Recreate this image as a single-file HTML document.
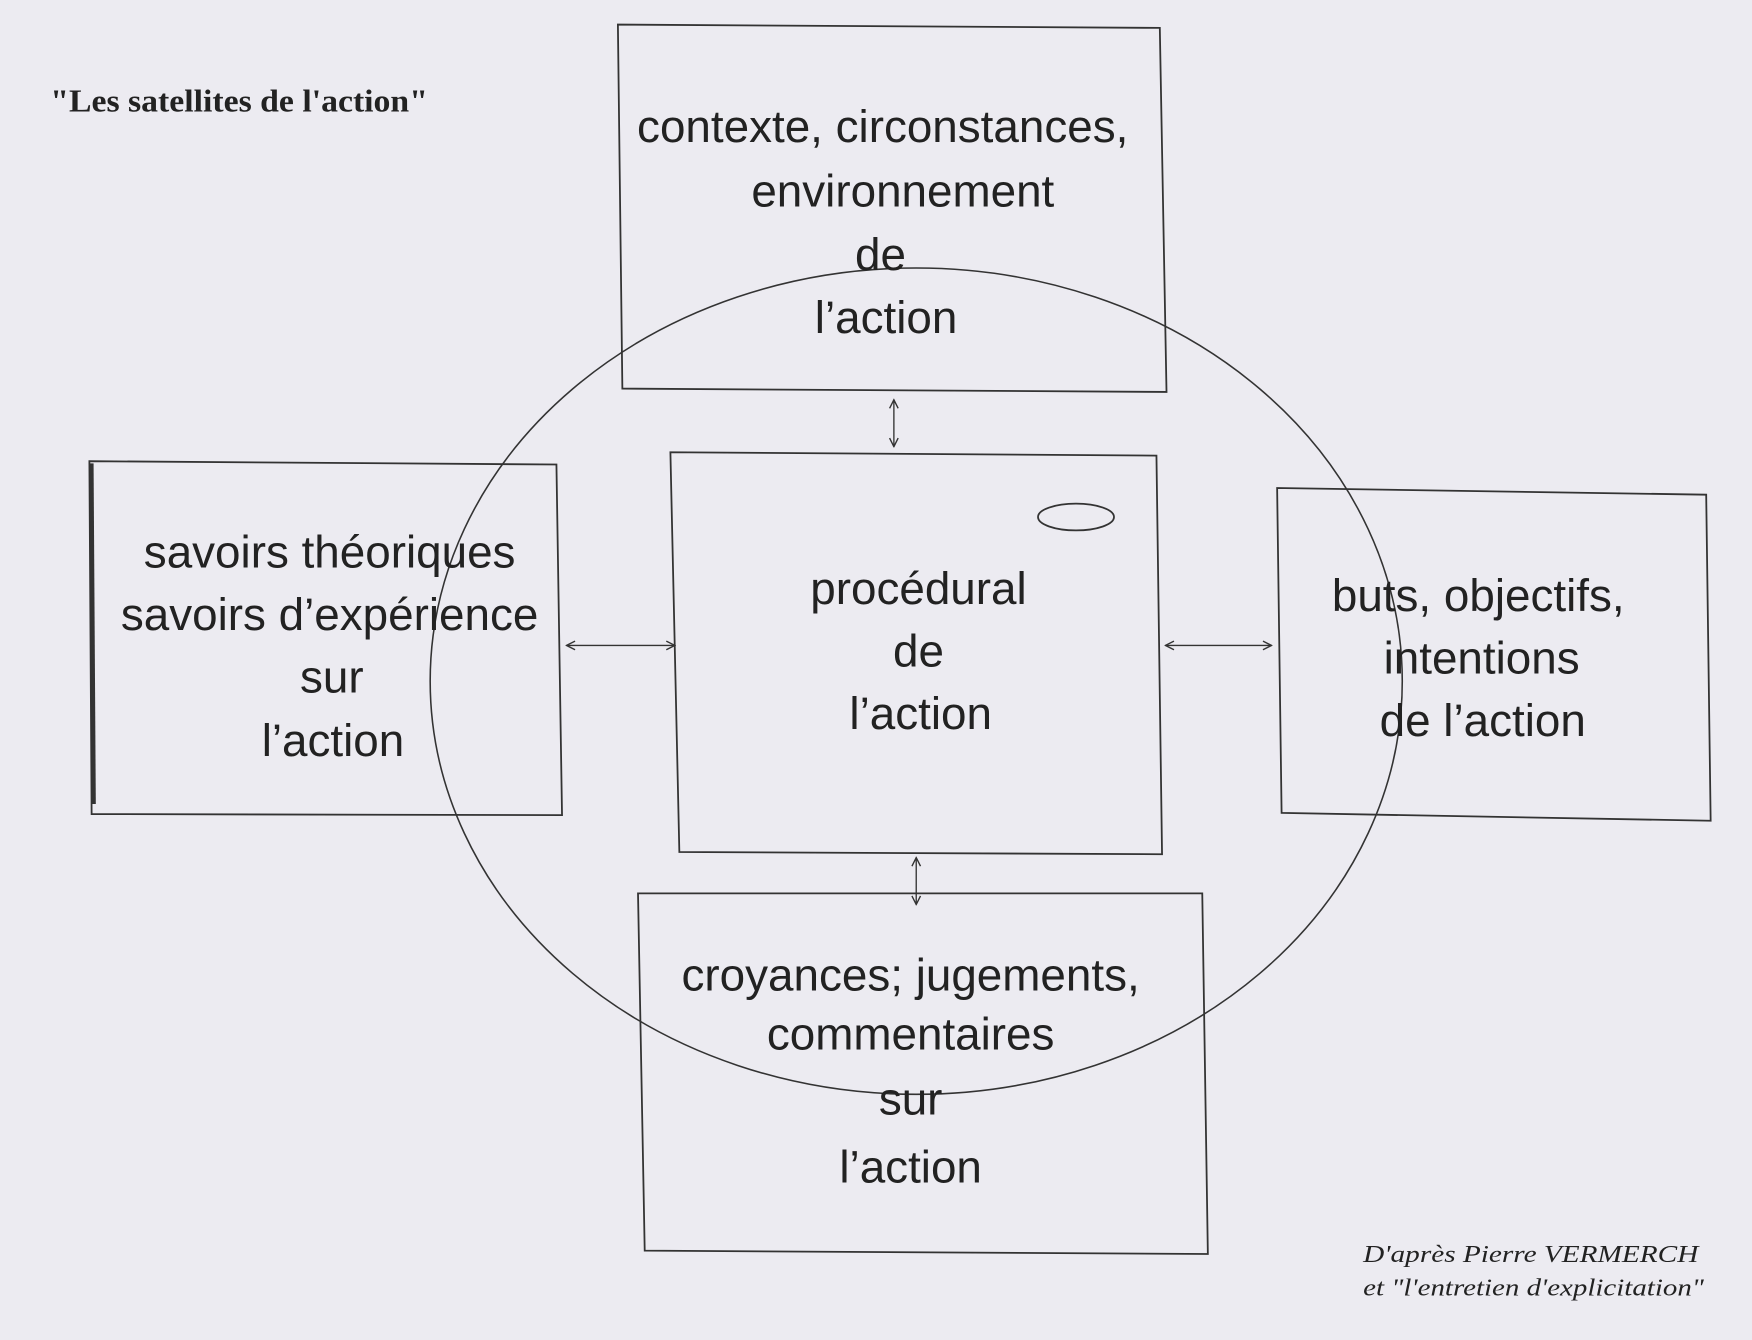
<!DOCTYPE html>
<html><head><meta charset="utf-8"><style>
html,body{margin:0;padding:0;background:#ecebf1;}
svg{display:block;}
.s{font-family:"Liberation Sans",sans-serif;font-size:41px;fill:#222;text-anchor:middle;}
</style></head><body>
<svg width="1752" height="1340" viewBox="0 0 1568 1200" preserveAspectRatio="none" xmlns="http://www.w3.org/2000/svg">
<defs><marker id="a" viewBox="0 0 10 10" refX="9" refY="5" markerWidth="8" markerHeight="8" orient="auto-start-reverse"><path d="M1,1 L9,5 L1,9" fill="none" stroke="#333" stroke-width="1.3"/></marker></defs>
<rect width="1568" height="1200" fill="#ecebf1"/>
<text x="45" y="100" font-family="Liberation Serif,serif" font-weight="bold" font-size="28" fill="#222" textLength="338" lengthAdjust="spacingAndGlyphs">"Les satellites de l'action"</text>
<g fill="none" stroke="#333" stroke-width="1.6">
<polygon points="553,22 1038,25 1044,351 557,348"/>
<polygon points="80,413 498,416 503,730 82,729"/>
<line x1="82" y1="415" x2="84" y2="720" stroke-width="3.5"/>
<polygon points="600,405 1035,408 1040,765 608,763"/>
<polygon points="1143,437 1527,443 1531,735 1147,728"/>
<polygon points="571,800 1076,800 1081,1123 577,1120"/>
<ellipse cx="820" cy="610" rx="435" ry="370" stroke-width="1.4"/>
<ellipse cx="963" cy="463" rx="34" ry="12"/>
<line x1="800" y1="358" x2="800" y2="400" marker-start="url(#a)" marker-end="url(#a)" stroke-width="1.2"/>
<line x1="820" y1="768" x2="820" y2="810" marker-start="url(#a)" marker-end="url(#a)" stroke-width="1.2"/>
<line x1="507" y1="578" x2="604" y2="578" marker-start="url(#a)" marker-end="url(#a)" stroke-width="1.2"/>
<line x1="1043" y1="578" x2="1138" y2="578" marker-start="url(#a)" marker-end="url(#a)" stroke-width="1.2"/>
</g>
<text class="s" x="790" y="127">contexte, circonstances,</text>
<text class="s" x="808" y="185">environnement</text>
<text class="s" x="788" y="242">de</text>
<text class="s" x="793" y="298">l’action</text>
<text class="s" x="295" y="508">savoirs théoriques</text>
<text class="s" x="295" y="564">savoirs d’expérience</text>
<text class="s" x="297" y="620">sur</text>
<text class="s" x="298" y="677">l’action</text>
<text class="s" x="822" y="541">procédural</text>
<text class="s" x="822" y="597">de</text>
<text class="s" x="824" y="653">l’action</text>
<text class="s" x="1323" y="547">buts, objectifs,</text>
<text class="s" x="1326" y="603">intentions</text>
<text class="s" x="1327" y="659">de l’action</text>
<text class="s" x="815" y="887">croyances; jugements,</text>
<text class="s" x="815" y="940">commentaires</text>
<text class="s" x="815" y="998">sur</text>
<text class="s" x="815" y="1059">l’action</text>
<text x="1220" y="1130" font-family="Liberation Serif,serif" font-style="italic" font-size="22" fill="#222" textLength="300" lengthAdjust="spacingAndGlyphs">D'après Pierre VERMERCH</text>
<text x="1220" y="1160" font-family="Liberation Serif,serif" font-style="italic" font-size="22" fill="#222" textLength="305" lengthAdjust="spacingAndGlyphs">et "l'entretien d'explicitation"</text>
</svg>
</body></html>
